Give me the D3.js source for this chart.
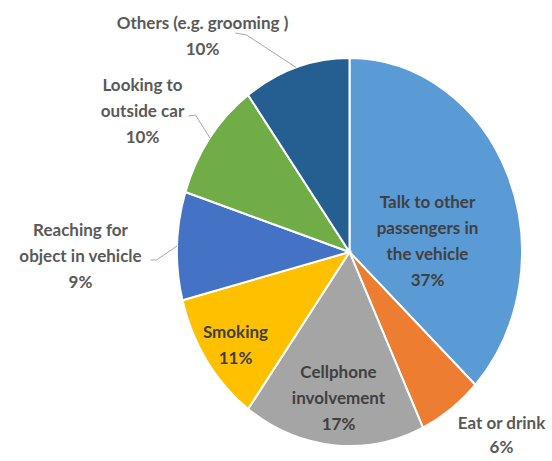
<!DOCTYPE html>
<html>
<head>
<meta charset="utf-8">
<script src="https://cdn.jsdelivr.net/npm/d3@7"></script>
<style>
  body { margin: 0; background: #fff; }
  text { font-family: Lato, "Open Sans", sans-serif; font-weight: bold; }
</style>
</head>
<body>
<div id="chart"></div>
<script>
// Distraction types (clockwise from 12 o'clock)
let categories = ["Talk to other passengers in the vehicle", "Eat or drink", "Cellphone involvement",
    "Smoking", "Reaching for object in vehicle", "Looking to outside car", "Others (e.g. grooming )"];
let values = [37, 6, 17, 11, 9, 10, 10];
let labelLines = [
    ["Talk to other", "passengers in", "the vehicle"],
    ["Eat or drink"],
    ["Cellphone", "involvement"],
    ["Smoking"],
    ["Reaching for", "object in vehicle"],
    ["Looking to", "outside car"],
    ["Others (e.g. grooming )"]
];
let colors = ["#5b9bd5", "#ed7d31", "#a5a5a5", "#ffc000", "#4472c4", "#70ad47", "#255e91"];

// Layout
let svgWidth = 552;
let svgHeight = 461;
let cx = 349.5, cy = 252;
let rx = 172.5, ry = 194;
let lineH = 26;

// label anchor (x of block centre, y of first line) relative to the pie centre
let labelLayout = [
    { x: 78, y: -50, inside: true },
    { x: 152, y: 171, inside: false, lineH: 24 },
    { x: -11, y: 120, inside: true },
    { x: -114, y: 80, inside: true },
    { x: -269, y: -22, inside: false, lead: [-199, 8, -193, 8] },
    { x: -207, y: -167, inside: false, lead: [-161, -136, -154, -137] },
    { x: -147, y: -229, inside: false, lead: [-114, -219, -103, -217] }
];

let svg = d3.select("#chart")
    .append("svg")
    .attr("width", svgWidth)
    .attr("height", svgHeight);

let pie = d3.pie().sort(null).value(d => d);
let arcs = pie(values);

let arc = d3.arc().innerRadius(0).outerRadius(ry);

let pieGroup = svg.append("g")
    .attr("transform", `translate(${cx}, ${cy}) scale(${rx / ry}, 1)`);

pieGroup.selectAll("path")
    .data(arcs)
    .enter()
    .append("path")
    .attr("d", arc)
    .attr("fill", (d, i) => colors[i])
    .attr("stroke", "#fff")
    .attr("stroke-width", 2)
    .attr("vector-effect", "non-scaling-stroke");

let labelGroup = svg.append("g")
    .attr("transform", `translate(${cx}, ${cy})`);

// leader lines for outside labels, ending on the pie edge at the slice's mid angle
arcs.forEach(function(d, i) {
    let lay = labelLayout[i];
    if (!lay.lead) return;
    let mid = (d.startAngle + d.endAngle) / 2;
    let ex = Math.sin(mid) * rx;
    let ey = -Math.cos(mid) * ry;
    labelGroup.append("polyline")
        .attr("points", [[lay.lead[0], lay.lead[1]], [lay.lead[2], lay.lead[3]], [ex, ey]].map(p => p.join(",")).join(" "))
        .attr("fill", "none")
        .attr("stroke", "#a6a6a6")
        .attr("stroke-width", 1);
});

arcs.forEach(function(d, i) {
    let lay = labelLayout[i];
    let lh = lay.lineH || lineH;
    let lines = labelLines[i].concat([d3.format(".0f")(values[i]) + "%"]);
    let t = labelGroup.append("text")
        .attr("text-anchor", "middle")
        .attr("font-size", 17)
        .attr("fill", lay.inside ? "#404040" : "#595959");
    lines.forEach(function(line, j) {
        t.append("tspan")
            .attr("x", lay.x)
            .attr("y", lay.y + j * lh)
            .attr("dy", "0.35em")
            .text(line);
    });
});
</script>
</body>
</html>
